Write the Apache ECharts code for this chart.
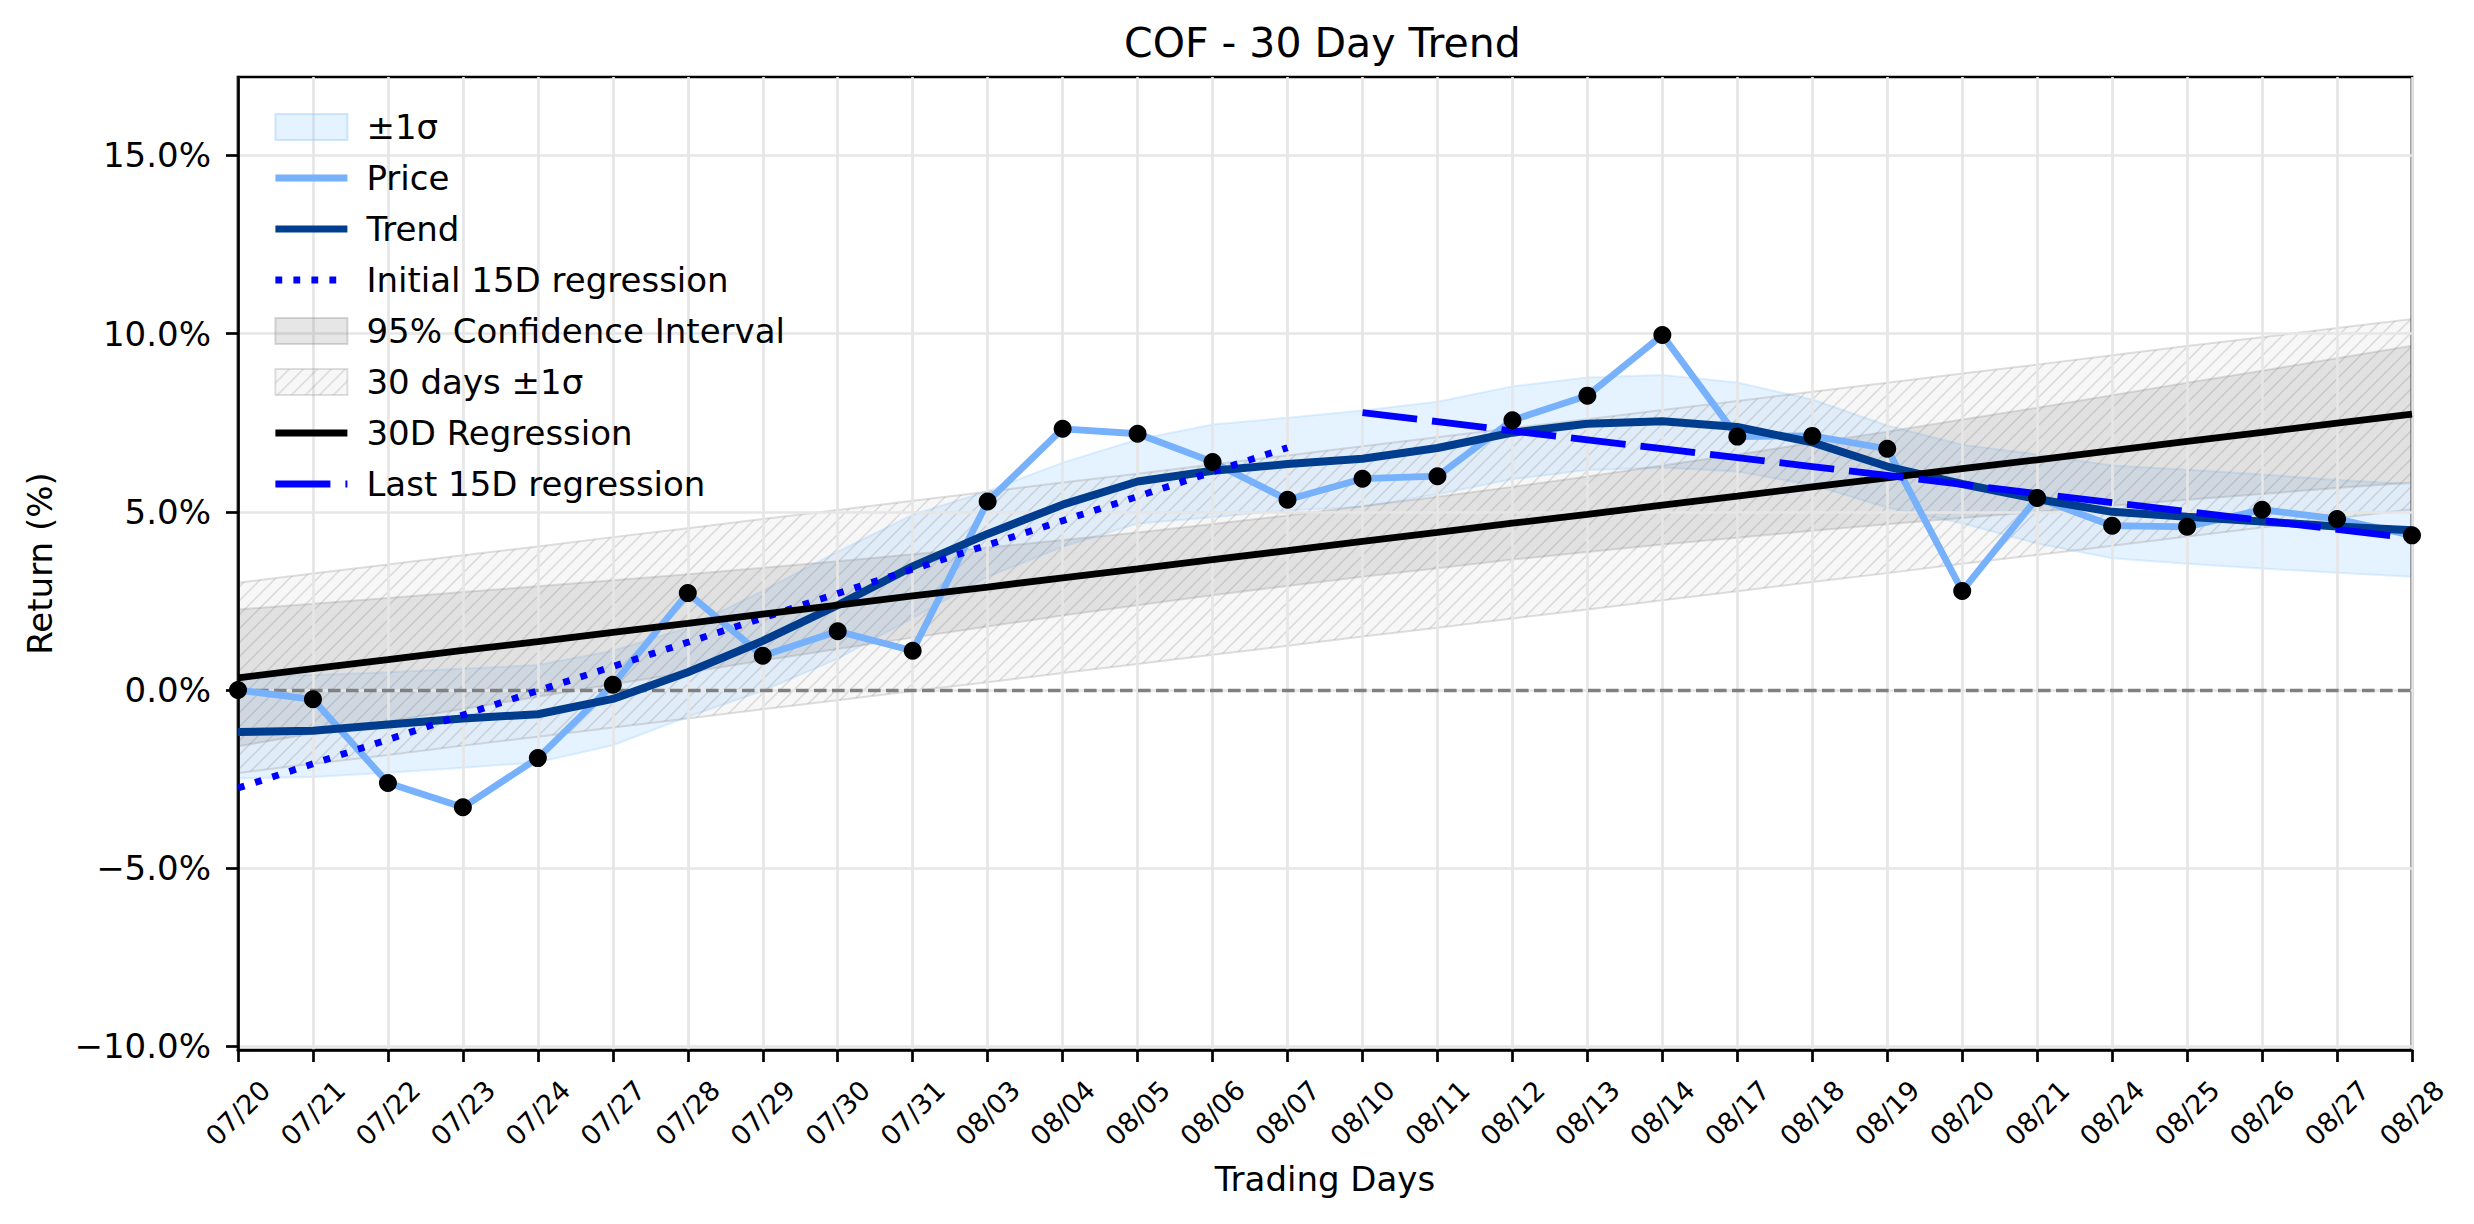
<!DOCTYPE html>
<html><head><meta charset="utf-8">
<script src="https://cdn.jsdelivr.net/npm/echarts@6/dist/echarts.min.js"></script>
<style>html,body{margin:0;padding:0;background:#fff}#chart{width:2474px;height:1224px}</style>
</head><body><div id="chart"></div>
<script>
const dates = ['07/20','07/21','07/22','07/23','07/24','07/27','07/28','07/29','07/30','07/31','08/03','08/04','08/05','08/06','08/07','08/10','08/11','08/12','08/13','08/14','08/17','08/18','08/19','08/20','08/21','08/24','08/25','08/26','08/27','08/28'];
const price = [0.00,-0.26,-2.61,-3.29,-1.91,0.15,2.72,0.96,1.65,1.10,5.29,7.33,7.19,6.40,5.34,5.93,6.00,7.57,8.26,9.96,7.11,7.13,6.77,2.78,5.39,4.61,4.58,5.06,4.80,4.34];
const trend = [-1.18,-1.14,-0.97,-0.80,-0.68,-0.25,0.50,1.38,2.38,3.47,4.38,5.20,5.85,6.15,6.34,6.49,6.79,7.22,7.47,7.54,7.38,6.95,6.27,5.78,5.36,5.00,4.86,4.73,4.59,4.48];
const sigmaUpper = [0.40,0.42,0.50,0.60,0.70,1.10,1.75,2.78,3.88,4.92,5.58,6.38,7.03,7.45,7.64,7.84,8.09,8.52,8.77,8.84,8.63,8.15,7.42,6.88,6.61,6.30,6.18,6.05,5.89,5.78];
const sigmaLower = [-2.48,-2.44,-2.32,-2.18,-2.03,-1.55,-0.75,-0.02,0.88,2.02,3.18,4.02,4.67,4.85,5.04,5.14,5.49,5.92,6.17,6.24,6.13,5.75,5.12,4.68,4.11,3.70,3.54,3.41,3.29,3.18];
const reg30 = [0.34,0.60,0.85,1.11,1.36,1.62,1.87,2.13,2.38,2.64,2.89,3.15,3.40,3.66,3.91,4.17,4.42,4.68,4.93,5.19,5.44,5.70,5.95,6.21,6.46,6.72,6.98,7.23,7.49,7.74];
const ciUpper = [2.26,2.42,2.58,2.75,2.91,3.08,3.25,3.43,3.61,3.81,4.00,4.21,4.42,4.66,4.90,5.16,5.42,5.70,5.99,6.30,6.61,6.93,7.25,7.59,7.92,8.27,8.62,8.96,9.31,9.66];
const ciLower = [-1.58,-1.22,-0.88,-0.53,-0.19,0.16,0.49,0.83,1.15,1.47,1.78,2.09,2.38,2.66,2.92,3.18,3.42,3.66,3.87,4.08,4.27,4.47,4.65,4.83,5.00,5.17,5.34,5.50,5.67,5.82];
const band30Upper = [3.01,3.27,3.52,3.78,4.03,4.29,4.54,4.80,5.05,5.31,5.56,5.82,6.07,6.33,6.58,6.84,7.09,7.35,7.60,7.86,8.11,8.37,8.62,8.88,9.13,9.39,9.65,9.90,10.16,10.41];
const band30Lower = [-2.33,-2.07,-1.82,-1.56,-1.31,-1.05,-0.80,-0.54,-0.29,-0.03,0.22,0.48,0.73,0.99,1.24,1.50,1.75,2.01,2.26,2.52,2.77,3.03,3.28,3.54,3.79,4.05,4.31,4.56,4.82,5.07];
const initReg = [-2.75,-2.07,-1.39,-0.70,-0.02,0.66,1.34,2.02,2.71,3.39,4.07,4.75,5.43,6.12,6.80];
const lastReg = [7.78,7.53,7.27,7.02,6.77,6.52,6.27,6.02,5.77,5.51,5.26,5.01,4.76,4.51,4.26];
const lastRegStart = 15;
const yTicks = [-10,-5,0,5,10,15];
const zeroLevel = 0;

const FONT = 'DejaVu Sans';
function makeHatch(){
  const s = 14, c = document.createElement('canvas'); c.width = s; c.height = s;
  const g = c.getContext('2d');
  g.fillStyle = 'rgba(190,190,190,0.12)'; g.fillRect(0,0,s,s);
  g.strokeStyle = 'rgba(120,120,120,0.24)'; g.lineWidth = 1.5;
  g.beginPath();
  g.moveTo(-1,s+1); g.lineTo(s+1,-1);
  g.moveTo(-3,3); g.lineTo(3,-3);
  g.moveTo(s-3,s+3); g.lineTo(s+3,s-3);
  g.stroke();
  return c;
}
const hatchCanvas = makeHatch();
const hatch = {image: hatchCanvas, repeat: 'repeat', imageWidth: 14, imageHeight: 14};

const SIG_COLOR = 'rgba(153,204,255,0.25)';
const CI_COLOR = 'rgba(128,128,128,0.2)';
const NO_SYMBOL = {opacity: 0, borderWidth: 0};

function band(name, upper, lower, fill, stroke, z){
  return {
    type: 'custom', name: name, z: z, silent: true,
    coordinateSystem: 'cartesian2d',
    itemStyle: {color: fill},
    data: [[0, upper[0]]],
    renderItem: function(params, api){
      const pts = [];
      for (let i = 0; i < upper.length; i++) pts.push(api.coord([i, upper[i]]));
      for (let i = lower.length - 1; i >= 0; i--) pts.push(api.coord([i, lower[i]]));
      return {type: 'polygon', shape: {points: pts}, style: {fill: fill, stroke: stroke, lineWidth: 2}};
    }
  };
}

const chart = echarts.init(document.getElementById('chart'), null, {renderer: 'svg'});
chart.setOption({
  animation: false,
  backgroundColor: '#fff',
  title: {
    text: 'COF - 30 Day Trend', left: 1119, top: 17,
    textStyle: {fontFamily: FONT, fontSize: 41, fontWeight: 'normal', color: '#000'}
  },
  grid: {left: 238, right: 62, top: 77, bottom: 174, containLabel: false, outerBoundsMode: 'none',
    show: true, borderColor: '#000', borderWidth: 2.7, backgroundColor: 'transparent'},
  legend: {
    orient: 'vertical', left: 267, top: 105, itemWidth: 72, itemHeight: 26, itemGap: 17,
    selectedMode: false,
    textStyle: {fontFamily: FONT, fontSize: 34, color: '#000', padding: [0,0,0,14]},
    lineStyle: {width: 6.8},
    data: [
      {name: '±1σ', icon: 'rect', itemStyle: {color: SIG_COLOR, borderColor: 'rgba(153,204,255,0.45)', borderWidth: 2}},
      {name: 'Price', itemStyle: NO_SYMBOL},
      {name: 'Trend', itemStyle: NO_SYMBOL},
      {name: 'Initial 15D regression', itemStyle: NO_SYMBOL},
      {name: '95% Confidence Interval', icon: 'rect', itemStyle: {color: CI_COLOR, borderColor: 'rgba(128,128,128,0.3)', borderWidth: 2}},
      {name: '30 days ±1σ', icon: 'rect', itemStyle: {color: hatch, borderColor: 'rgba(150,150,150,0.3)', borderWidth: 2}},
      {name: '30D Regression', itemStyle: NO_SYMBOL},
      {name: 'Last 15D regression', itemStyle: NO_SYMBOL}
    ]
  },
  xAxis: {
    type: 'category', data: dates, boundaryGap: false,
    name: 'Trading Days', nameLocation: 'middle', nameGap: 112,
    nameTextStyle: {fontFamily: FONT, fontSize: 34, color: '#000'},
    axisLine: {show: true, onZero: false, lineStyle: {color: '#000', width: 2.7}},
    axisTick: {show: true, interval: 0, length: 12, lineStyle: {color: '#000', width: 2.7}},
    axisLabel: {interval: 0, rotate: 45, align: 'center', verticalAlign: 'middle', margin: 63,
      fontFamily: FONT, fontSize: 27, color: '#000'},
    splitLine: {show: true, interval: 0, lineStyle: {color: '#e6e6e6', width: 2.7}}
  },
  yAxis: {
    type: 'value', min: -10.1, max: 17.2,
    name: 'Return (%)', nameLocation: 'middle', nameGap: 181,
    nameTextStyle: {fontFamily: FONT, fontSize: 34, color: '#000'},
    axisLine: {show: true, onZero: false, lineStyle: {color: '#000', width: 2.7}},
    axisTick: {show: true, length: 12, customValues: yTicks, lineStyle: {color: '#000', width: 2.7}},
    axisLabel: {customValues: yTicks, margin: 27, fontFamily: FONT, fontSize: 34, color: '#000',
      formatter: function(v){ return (v < 0 ? '\u2212' : '') + Math.abs(v).toFixed(1) + '%'; }},
    splitLine: {show: true, lineStyle: {color: '#e6e6e6', width: 2.7}}
  },
  series: [
    band('±1σ', sigmaUpper, sigmaLower, SIG_COLOR, 'rgba(153,204,255,0.3)', -3),
    {
      name: 'Price', type: 'line', data: price, z: 2, symbol: 'none', showSymbol: false,
      lineStyle: {color: '#77b1fb', width: 6.8}, itemStyle: {color: '#77b1fb'},
      markLine: {silent: true, symbol: ['none','none'], z: 1, label: {show: false},
        lineStyle: {color: '#808080', width: 3.4, type: [12.6, 5.4]},
        data: [{yAxis: zeroLevel}]}
    },
    {
      name: 'Trend', type: 'line', data: trend, z: 3, symbol: 'none', showSymbol: false,
      lineStyle: {color: '#003d8f', width: 8}, itemStyle: {color: '#003d8f'}
    },
    {
      name: 'Initial 15D regression', type: 'line', data: initReg, z: 3, symbol: 'none', showSymbol: false,
      lineStyle: {color: '#0000ff', width: 6.8, type: [6.8, 11.2], cap: 'butt'}, itemStyle: {color: '#0000ff'}
    },
    band('95% Confidence Interval', ciUpper, ciLower, CI_COLOR, 'rgba(128,128,128,0.25)', -2),
    band('30 days ±1σ', band30Upper, band30Lower, hatch, 'rgba(150,150,150,0.3)', -1),
    {
      name: '30D Regression', type: 'line', data: reg30, z: 3, symbol: 'none', showSymbol: false,
      lineStyle: {color: '#000', width: 6.8}, itemStyle: {color: '#000'}
    },
    {
      name: 'Last 15D regression', type: 'line', z: 3, symbol: 'none', showSymbol: false,
      data: lastReg.map(function(v, i){ return [dates[lastRegStart + i], v]; }),
      lineStyle: {color: '#0000ff', width: 6.8, type: [55, 15]}, itemStyle: {color: '#0000ff'}
    },
    {
      name: 'points', type: 'scatter', data: price, z: 5, symbol: 'circle', symbolSize: 18,
      itemStyle: {color: '#000', opacity: 1}, silent: true
    }
  ]
});
</script></body></html>
